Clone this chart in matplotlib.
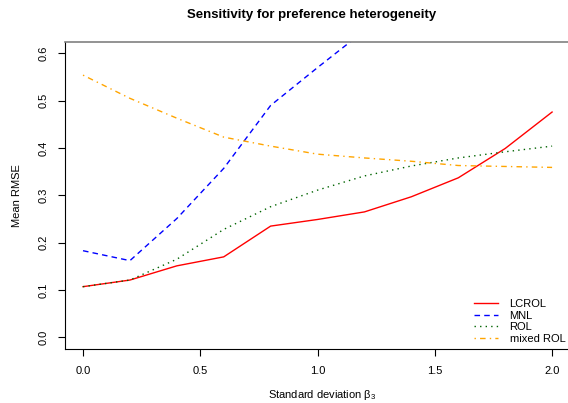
import matplotlib
matplotlib.use("Agg")
import matplotlib.pyplot as plt

plt.rcParams['font.family'] = ['Liberation Sans', 'DejaVu Sans']

sd = [0.0, 0.2, 0.4, 0.6, 0.8, 1.0, 1.2, 1.4, 1.6, 1.8, 2.0]
lcrol = [0.107, 0.121, 0.151, 0.170, 0.235, 0.249, 0.265, 0.297, 0.337, 0.399, 0.476]
mnl = [0.183, 0.162, 0.251, 0.357, 0.490, 0.570, 0.648, 0.71, 0.77, 0.83, 0.88]
rol = [0.107, 0.121, 0.165, 0.228, 0.276, 0.311, 0.341, 0.362, 0.379, 0.392, 0.404]
mixed = [0.554, 0.505, 0.463, 0.423, 0.404, 0.387, 0.379, 0.372, 0.363, 0.361, 0.359]

W, H = 568, 403
fig = plt.figure(figsize=(W / 100, H / 100), dpi=100)
# axes box in pixels: left 65, right 580 (cropped), top 42, bottom 349
ax = fig.add_axes([65 / W, 1 - 349 / H, (580 - 65) / W, (349 - 42) / H])

lw = 1.0
ax.plot(sd, lcrol, color='red', lw=lw, label='LCROL')
ax.plot(sd, mnl, color='blue', lw=lw, dashes=(4, 3), label='MNL')
ax.plot(sd, rol, color='darkgreen', lw=lw, dashes=(1, 3), label='ROL')
ax.plot(sd, mixed, color='orange', lw=lw, dashes=(1, 3, 4, 3), label='mixed ROL')

ax.set_xlim(-0.0768, 2.119)
ax.set_ylim(-0.0247, 0.624)
ax.set_xticks([0.0, 0.5, 1.0, 1.5, 2.0])
ax.set_yticks([0.0, 0.1, 0.2, 0.3, 0.4, 0.5, 0.6])
ax.set_xticklabels(['0.0', '0.5', '1.0', '1.5', '2.0'])
ax.set_yticklabels(['0.0', '0.1', '0.2', '0.3', '0.4', '0.5', '0.6'],
                   rotation=90, va='center')
ax.tick_params(labelsize=8, length=5, width=0.8, pad=7)

ax.spines['right'].set_visible(False)
ax.spines['top'].set_color('gray')
ax.spines['top'].set_linewidth(1.2)
for s in ['left', 'bottom']:
    ax.spines[s].set_linewidth(0.8)

ax.set_xlabel(r'Standard deviation $\mathregular{\beta_3}$', fontsize=8, labelpad=9)
ax.set_ylabel('Mean RMSE', fontsize=8, labelpad=12)

fig.text(312 / W, 1 - 15 / H, 'Sensitivity for preference heterogeneity',
         ha='center', va='center', fontsize=9.5, fontweight='bold')

ax.legend(loc='lower left', bbox_to_anchor=(474 / W, 1 - 344 / H),
          bbox_transform=fig.transFigure, frameon=False, fontsize=8,
          handlelength=2.2, handletextpad=1.0, labelspacing=0.15,
          borderpad=0, borderaxespad=0)

fig.savefig('out.png', dpi=100)
